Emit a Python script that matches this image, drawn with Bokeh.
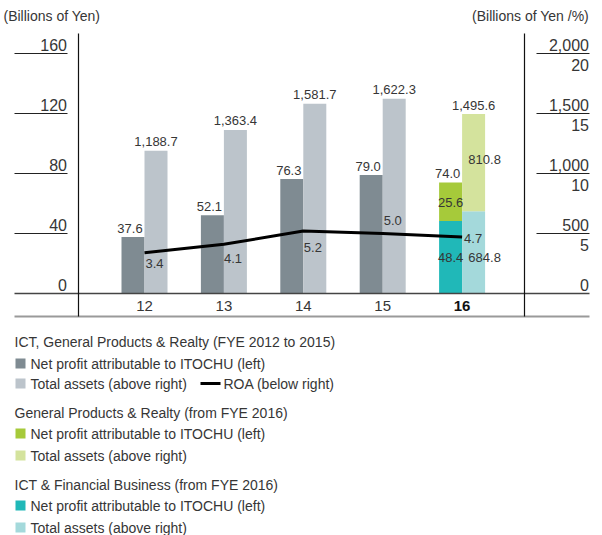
from bokeh.plotting import figure
from bokeh.models import Range1d
from bokeh.embed import file_html
from bokeh.resources import INLINE
from bokeh.core.properties import value

# ---------------- data ----------------
years = ["12", "13", "14", "15", "16"]
profit_old = [37.6, 52.1, 76.3, 79.0]            # FYE 2012-2015, left axis
assets_old = [1188.7, 1363.4, 1581.7, 1622.3]    # FYE 2012-2015, right axis
roa = [3.4, 4.1, 5.2, 5.0, 4.7]                  # %, right axis (below)
profit_ict_2016 = [48.4]
profit_gp_2016 = [25.6]
profit_total_2016 = [74.0]
assets_ict_2016 = [684.8]
assets_gp_2016 = [810.8]
assets_total_2016 = [1495.6]
left_ticks = [0, 40, 80, 120, 160]
left_tick_labels = ["0", "40", "80", "120", "160"]
right_ticks = [0, 500, 1000, 1500, 2000]
right_tick_labels = ["0", "500", "1,000", "1,500", "2,000"]
roa_ticks = [5, 10, 15, 20]
roa_tick_labels = ["5", "10", "15", "20"]

# ---------------- layout helpers (page pixel -> data) ----------------
CAT0 = 144.0      # page x of first category
STEP = 79.4       # pixels per category
ZERO = 293.0      # page y of zero line
PXU = 1.5         # pixels per left-axis unit
YEN_PER_UNIT = 2000 / 160
PCT_PER_UNIT = 20 / 160


def xd(px):
    return (px - CAT0) / STEP


def yd(py):
    return (ZERO - py) / PXU


W, H = 602, 535
FONT = value("Liberation Sans")
TXT = "#363636"
C_DARK = "#7f8b92"
C_LIGHT = "#bcc4cb"
C_GREEN = "#a6ca3a"
C_LGREEN = "#d4e39d"
C_TEAL = "#20b8b8"
C_LTEAL = "#a4d9db"

p = figure(width=W, height=H, output_backend="svg", toolbar_location=None,
           x_range=Range1d(xd(0), xd(W)), y_range=Range1d(yd(H), yd(0)),
           x_axis_location=None, y_axis_location=None, min_border=0)
p.extra_y_ranges = {
    "assets": Range1d(yd(H) * YEN_PER_UNIT, yd(0) * YEN_PER_UNIT),
    "roa": Range1d(yd(H) * PCT_PER_UNIT, yd(0) * PCT_PER_UNIT),
}
p.xgrid.visible = False
p.ygrid.visible = False
p.outline_line_color = None
p.background_fill_color = "white"
p.border_fill_color = "white"

BW = 23 / STEP
OFF = 11.5 / STEP
n_old = len(profit_old)
xs_old = list(range(n_old))
i16 = len(years) - 1

# ---------------- axes frame (drawn from tick lists) ----------------
p.segment(x0=xd(14), x1=xd(67), y0=left_ticks[1:], y1=left_ticks[1:], line_color="#222222", line_width=1)
p.segment(x0=xd(536), x1=xd(589), y0=right_ticks[1:], y1=right_ticks[1:], y_range_name="assets",
          line_color="#222222", line_width=1)

# ---------------- bars ----------------
p.vbar(x=[i - OFF for i in xs_old], top=profit_old, bottom=0, width=BW, fill_color=C_DARK, line_color=None)
p.vbar(x=[i + OFF for i in xs_old], top=assets_old, bottom=0, width=BW, fill_color=C_LIGHT, line_color=None,
       y_range_name="assets")
p.vbar(x=[i16 - OFF], bottom=0, top=profit_ict_2016, width=BW, fill_color=C_TEAL, line_color=None)
p.vbar(x=[i16 - OFF], bottom=profit_ict_2016, top=[a + b for a, b in zip(profit_ict_2016, profit_gp_2016)],
       width=BW, fill_color=C_GREEN, line_color=None)
p.vbar(x=[i16 + OFF], bottom=0, top=assets_ict_2016, width=BW, fill_color=C_LTEAL, line_color=None,
       y_range_name="assets")
p.vbar(x=[i16 + OFF], bottom=assets_ict_2016, top=[a + b for a, b in zip(assets_ict_2016, assets_gp_2016)],
       width=BW, fill_color=C_LGREEN, line_color=None, y_range_name="assets")

# baseline, bottom rule, vertical axis lines
p.segment(x0=[xd(14)], x1=[xd(589)], y0=[0], y1=[0], line_color="#444444", line_width=1.3)
p.segment(x0=[xd(14)], x1=[xd(589)], y0=[yd(316)], y1=[yd(316)], line_color="#9a9a9a", line_width=1.8)
p.segment(x0=[xd(78), xd(524)], x1=[xd(78), xd(524)], y0=[yd(33)] * 2, y1=[yd(316)] * 2,
          line_color="#111111", line_width=1.2)

# ROA line
p.line(x=list(range(len(roa))), y=roa, y_range_name="roa", line_color="black", line_width=3)


def txt(x, y, text, size="13px", align="center", baseline="middle", xo=0, yo=0, style="normal",
        rng=None, color=TXT):
    kw = dict(x=x, y=y, text=text, text_font=FONT, text_font_size=size, text_align=align,
              text_baseline=baseline, x_offset=xo, y_offset=yo, text_color=color, text_font_style=style)
    if rng:
        kw["y_range_name"] = rng
    p.text(**kw)


# value labels
txt([i - OFF for i in xs_old], profit_old, [f"{v:.1f}" for v in profit_old], xo=-3, yo=-9)
txt([i + OFF for i in xs_old], assets_old, [f"{v:,.1f}" for v in assets_old], yo=-9, rng="assets")
txt([i16 - OFF], profit_total_2016, [f"{v:.1f}" for v in profit_total_2016], xo=-3, yo=-9)
txt([i16 + OFF], assets_total_2016, [f"{v:,.1f}" for v in assets_total_2016], yo=-9, rng="assets")
txt([i16 - OFF], [a + b / 2 for a, b in zip(profit_ict_2016, profit_gp_2016)],
    [f"{v:.1f}" for v in profit_gp_2016], xo=0, yo=1)
txt([i16 - OFF], [a / 2 for a in profit_ict_2016], [f"{v:.1f}" for v in profit_ict_2016], xo=0, yo=0)
txt([i16 + OFF], [a + b / 2 for a, b in zip(assets_ict_2016, assets_gp_2016)],
    [f"{v:.1f}" for v in assets_gp_2016], xo=11, yo=-3, rng="assets")
txt([i16 + OFF], [a / 2 for a in assets_ict_2016], [f"{v:.1f}" for v in assets_ict_2016],
    xo=11, yo=5, rng="assets")

# ROA labels
roa_xo = [1, 0, 0.5, 1, 2]
roa_yo = [11, 14, 16.5, -13, 1.5]
for i, v in enumerate(roa):
    txt([i], [v], [f"{v:.1f}"], align="left", xo=roa_xo[i], yo=roa_yo[i], rng="roa")

# category labels
txt(xs_old, [0] * n_old, years[:n_old], size="15px", yo=12.5)
txt([i16], [0], [years[i16]], size="15px", yo=12.5, style="bold", color="#111111")

# tick labels
txt([xd(66.5)] * len(left_ticks), left_ticks, left_tick_labels, size="16px", align="right", yo=-8.5)
txt([xd(588.5)] * len(right_ticks), right_ticks, right_tick_labels, size="16px", align="right", yo=-8.5,
    rng="assets")
txt([xd(588.5)] * len(roa_ticks), roa_ticks, roa_tick_labels, size="16px", align="right", yo=11, rng="roa")

# unit titles
txt([xd(3)], [yd(15)], ["(Billions of Yen)"], size="14px", align="left")
txt([xd(588.5)], [yd(15)], ["(Billions of Yen /%)"], size="14px", align="right")

# ---------------- legend ----------------
rows = [341, 363, 383, 412, 433, 455, 484, 505, 527]
heads = [(rows[0], "ICT, General Products & Realty (FYE 2012 to 2015)"),
         (rows[3], "General Products & Realty (from FYE 2016)"),
         (rows[6], "ICT & Financial Business (from FYE 2016)")]
for r, t in heads:
    txt([xd(14)], [yd(r)], [t], size="14px", align="left")
items = [(rows[1], C_DARK, "Net profit attributable to ITOCHU (left)"),
         (rows[2], C_LIGHT, "Total assets (above right)"),
         (rows[4], C_GREEN, "Net profit attributable to ITOCHU (left)"),
         (rows[5], C_LGREEN, "Total assets (above right)"),
         (rows[7], C_TEAL, "Net profit attributable to ITOCHU (left)"),
         (rows[8], C_LTEAL, "Total assets (above right)")]
for r, c, t in items:
    p.rect(x=[xd(20)], y=[yd(r)], width=10, height=10, width_units="screen", height_units="screen",
           fill_color=c, line_color=None)
    txt([xd(30)], [yd(r)], [t], size="14px", align="left")
p.line(x=[xd(200), xd(220)], y=[yd(rows[2])] * 2, line_color="black", line_width=3)
txt([xd(223)], [yd(rows[2])], ["ROA (below right)"], size="14px", align="left")

open("out.html", "w").write(file_html(p, INLINE))
